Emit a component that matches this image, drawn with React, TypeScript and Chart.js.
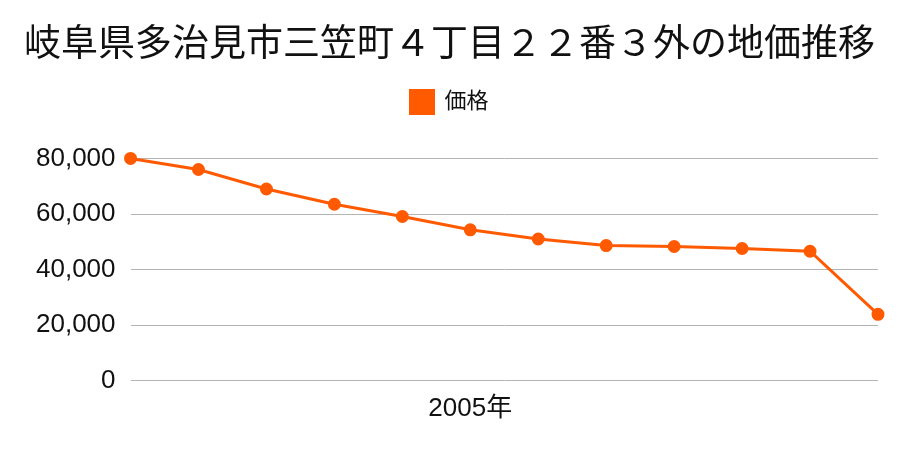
import React, { useEffect, useRef } from "react";
import { Chart, registerables } from "chart.js";

Chart.register(...registerables);

const titleText = "岐阜県多治見市三笠町４丁目２２番３外の地価推移";
const seriesName = "価格";
const categories = ["", "", "", "", "", "2005年", "", "", "", "", "", ""];
const prices = [80000, 76000, 69000, 63500, 59100, 54300, 51000, 48650, 48300, 47600, 46600, 23900];
const yTicks = [0, 20000, 40000, 60000, 80000];

const FONT = '"Liberation Sans", "Noto Sans CJK JP", sans-serif';
const COLOR = "rgb(255, 90, 0)";

const legendSpacer = {
  id: "legendSpacer",
  beforeInit(chart: any) {
    const orig = chart.legend.fit;
    chart.legend.fit = function () {
      orig.bind(chart.legend)();
      this.height += 35;
    };
  },
};

export default function App() {
  const ref = useRef<HTMLCanvasElement | null>(null);
  useEffect(() => {
    if (!ref.current) return;
    const chart = new Chart(ref.current, {
      type: "line",
      data: {
        labels: categories,
        datasets: [
          {
            label: seriesName,
            data: prices,
            borderColor: COLOR,
            backgroundColor: COLOR,
            borderWidth: 3,
            pointRadius: 5,
            pointBackgroundColor: COLOR,
            pointBorderColor: COLOR,
            tension: 0,
            clip: false,
          },
        ],
      },
      plugins: [legendSpacer],
      options: {
        animation: false,
        responsive: false,
        maintainAspectRatio: false,
        layout: { padding: { left: 21, right: 22, top: 24, bottom: 14 } },
        plugins: {
          title: {
            display: true,
            text: titleText,
            color: "#111",
            font: { family: FONT, size: 37, weight: "normal" },
            padding: { top: 0, bottom: 0 },
          },
          legend: {
            display: true,
            labels: {
              color: "#111",
              font: { family: FONT, size: 22 },
              boxWidth: 23,
              boxHeight: 23,
              padding: 22,
            },
          },
          tooltip: { enabled: false },
        },
        scales: {
          x: {
            offset: false,
            grid: { display: false, drawTicks: false },
            border: { display: false },
            ticks: {
              color: "#111",
              font: { family: FONT, size: 26 },
              autoSkip: false,
              maxRotation: 0,
              padding: 12,
            },
          },
          y: {
            min: 0,
            max: 80000,
            afterBuildTicks: (axis: any) => {
              axis.ticks = yTicks.map((v) => ({ value: v }));
            },
            grid: { color: "#b4b4b4", drawTicks: false, lineWidth: 1 },
            border: { display: false },
            ticks: {
              color: "#111",
              font: { family: FONT, size: 26 },
              padding: 15,
              callback: (v: any) => Number(v).toLocaleString("en-US"),
            },
          },
        },
      },
    });
    return () => chart.destroy();
  }, []);
  return (
    <div style={{ position: "fixed", left: 0, top: 0, width: 900, height: 450, background: "#fff" }}>
      <canvas ref={ref} width={900} height={450} style={{ width: 900, height: 450 }} />
    </div>
  );
}
